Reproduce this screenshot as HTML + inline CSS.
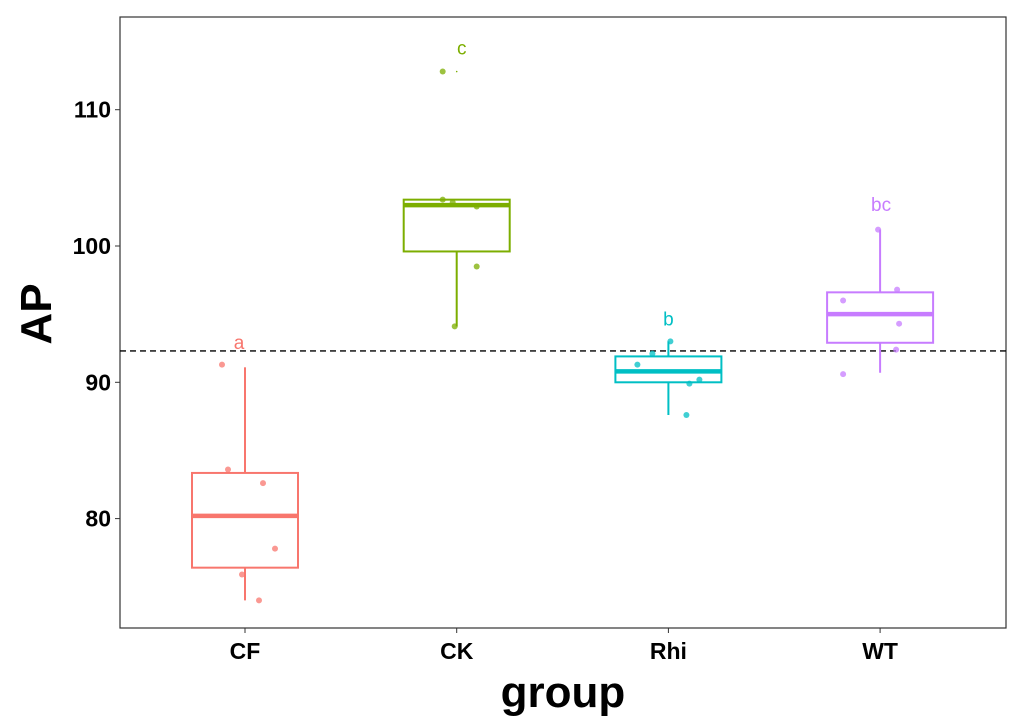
<!DOCTYPE html>
<html><head><meta charset="utf-8"><style>
body{margin:0;background:#fff;}
text{font-family:"Liberation Sans",sans-serif;}
</style></head><body>
<svg id="chart" width="1029" height="716" xmlns="http://www.w3.org/2000/svg"></svg>
<script>
const categories=["CF","CK","Rhi","WT"];
const colors=["#F8766D","#7CAE00","#00BFC4","#C77CFF"];
const q1=[76.4,99.6,90.0,92.9];
const medians=[80.2,103.0,90.8,95.0];
const q3=[83.35,103.4,91.9,96.6];
const whiskLo=[74.0,94.1,87.6,90.7];
const whiskHi=[91.1,103.4,93.0,101.2];
const outliers=[[],[112.8],[],[]];
const points=[[91.3,83.6,82.6,77.8,75.9,74.0],[103.4,103.2,102.9,98.5,94.1,112.8],[93.0,91.3,92.1,90.2,89.9,87.6],[101.2,96.0,96.8,94.3,92.4,90.6]];
const jitter=[[-23,-17,18,30,-3,14],[-14,-4,20,20,-2,-14],[2,-31,-16,31,21,18],[-2,-37,17,19,16,-37]];
const letters=["a","c","b","bc"];
const letterVals=[92.9,114.5,94.6,103.0];
const yTicks=[80,90,100,110];
const refLine=92.3;
const svg=document.getElementById('chart');
const NS="http://www.w3.org/2000/svg";
const L=120,R=1006,T=17,B=628;
function y(v){return 246-(v-100)*13.63;}
function x(i){return 245+i*211.7;}
function mk(tag,attrs,parent){const e=document.createElementNS(NS,tag);for(const k in attrs)e.setAttribute(k,attrs[k]);(parent||svg).appendChild(e);return e;}
const frame=mk('rect',{x:L,y:T,width:R-L,height:B-T,fill:'none',stroke:'#333','stroke-width':1.2});


const ref=mk('line',{x1:L,x2:R,y1:y(refLine),y2:y(refLine),stroke:'#000','stroke-width':1.3,'stroke-dasharray':'6,4'});


yTicks.forEach(t=>{
 mk('line',{x1:L-5,x2:L,y1:y(t),y2:y(t),stroke:'#333'});
 const tx=mk('text',{x:L-9,y:y(t)+8,'text-anchor':'end','font-size':23,'font-weight':'bold',fill:'#000'});
 tx.textContent=t;
 
 
});
categories.forEach((c,i)=>{
 const g=mk('g',{});
 
 
 const cx=x(i),hw=53,col=colors[i];
 mk('line',{x1:cx,x2:cx,y1:y(whiskHi[i]),y2:y(q3[i]),stroke:col,'stroke-width':2},g);
 mk('line',{x1:cx,x2:cx,y1:y(q1[i]),y2:y(whiskLo[i]),stroke:col,'stroke-width':2},g);
 mk('rect',{x:cx-hw,y:y(q3[i]),width:2*hw,height:y(q1[i])-y(q3[i]),fill:'#fff',stroke:col,'stroke-width':2},g);
 mk('line',{x1:cx-hw,x2:cx+hw,y1:y(medians[i]),y2:y(medians[i]),stroke:col,'stroke-width':4.5},g);
 outliers[i].forEach(o=>mk('circle',{cx:cx,cy:y(o),r:0.8,fill:col},g));
 points[i].forEach((p,j)=>{
  const pt=mk('circle',{cx:cx+jitter[i][j],cy:y(p),r:3,fill:col,'fill-opacity':0.75},g);
  
  
 });
 const lt=mk('text',{x:cx+(i==0?-6:i==1?5:i==3?1:0),y:y(letterVals[i])+6,'text-anchor':'middle','font-size':19,fill:col});
 lt.textContent=letters[i];
 
 
 mk('line',{x1:cx,x2:cx,y1:B,y2:B+5,stroke:'#333'});
 const xl=mk('text',{x:cx,y:B+31,'text-anchor':'middle','font-size':23,'font-weight':'bold',fill:'#000'});
 xl.textContent=c;
 
 
});
const xt=mk('text',{x:563,y:707,'text-anchor':'middle','font-size':44,'font-weight':'bold',fill:'#000'});
xt.textContent='group';


const yt=mk('text',{x:0,y:0,'text-anchor':'middle','font-size':44,'font-weight':'bold',fill:'#000',transform:'translate(51,314) rotate(-90)'});
yt.textContent='AP';


</script>
</body></html>
